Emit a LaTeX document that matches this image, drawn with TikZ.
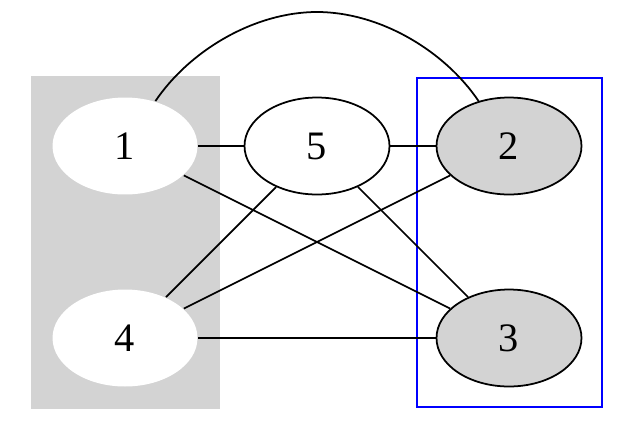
\documentclass[tikz,border=0pt]{standalone}
\usepackage{fontspec}
\setmainfont{Liberation Serif}
\usetikzlibrary{shapes.geometric}
\definecolor{clustergray}{RGB}{211,211,211}

\begin{document}
\begin{tikzpicture}[x=0.02cm, y=-0.02cm, line width=1pt,
        vertex/.style={ellipse, minimum width=2.9cm, minimum height=1.94cm, inner sep=0pt,
                font=\fontsize{23}{27}\selectfont}]
        \useasboundingbox (0,0) rectangle (634,440);

        % Clusters
        \fill[clustergray] (31,76) rectangle (220,409);
        \draw[blue, line width=1.3pt] (417,78) rectangle (602,407);

        % Vertices
        \node[vertex, fill=white] (n1) at (125,146) {1};
        \node[vertex, fill=white] (n4) at (125,338) {4};
        \node[vertex, draw, fill=white] (n5) at (317,146) {5};
        \node[vertex, draw, fill=clustergray] (n2) at (509,146) {2};
        \node[vertex, draw, fill=clustergray] (n3) at (509,338) {3};

        % Straight edges
        \foreach \a/\b in {n1/n5, n5/n2, n1/n3, n4/n5, n4/n2, n4/n3, n5/n3} {
                \draw (\a) -- (\b);
            }

        % Curved edge over the top
        \coordinate (arctop) at (317,12);
        \draw (n1) .. controls (190,50) and (255,12) .. (arctop)
                .. controls (379,12) and (444,50) .. (n2);
\end{tikzpicture}
\end{document}
